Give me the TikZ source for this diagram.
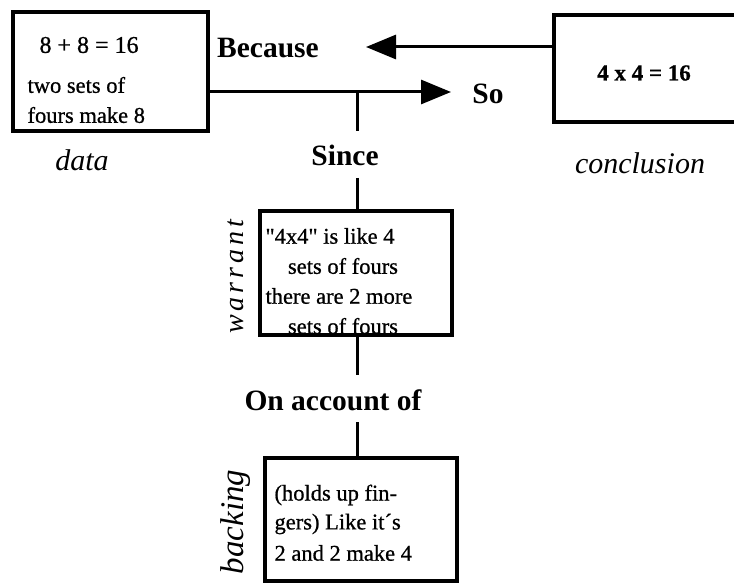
\documentclass[tikz,border=0pt]{standalone}
\usepackage{fontspec}
\setmainfont{Liberation Serif}
\newfontfamily\boxfont{Liberation Serif}[FakeBold=0.8]
\usetikzlibrary{arrows.meta}
\begin{document}
\begin{tikzpicture}[x=1pt,y=-1pt,
  frame/.style={draw,line width=3.2pt},
  link/.style={line width=3pt},
  tip/.style={-{Triangle[length=30pt,width=24pt]}},
  word/.style={font=\fontsize{29.5}{32}\selectfont\bfseries},
  role/.style={font=\fontsize{30}{32}\selectfont\itshape},
  boxtext/.style={font=\boxfont\fontsize{22.5}{30}\selectfont}]
\useasboundingbox (0,0) rectangle (734,585);
\clip (0,0) rectangle (734,585);

% the four boxes
\draw[frame] (13,12) rectangle (208,131);
\draw[frame] (554,15) rectangle (745,122);
\draw[frame] (260,211) rectangle (452,335);
\draw[frame] (265,458) rectangle (457,581);

% box contents
\node[boxtext,font=\boxfont\fontsize{24}{30}\selectfont,anchor=west] (d1) at (36,45) {8 + 8 = 16};
\node[boxtext,anchor=west] (d2) at (24,85) {two sets of};
\node[boxtext,anchor=west] (d3) at (24,115) {fours make 8};
\node[font=\boxfont\fontsize{23}{26}\selectfont\bfseries] (c1) at (644,73) {4 x 4 = 16};
\node[boxtext,anchor=west] (w1) at (262,236) {"4x4" is like 4};
\node[boxtext] (w2) at (343,266) {sets of fours};
\node[boxtext,anchor=west] (w3) at (262,296) {there are 2 more};
\node[boxtext] (w4) at (343,326) {sets of fours};
\node[boxtext,anchor=west] (b1) at (271,495) {(holds up fin-};
\node[boxtext,anchor=west] (b2) at (271,524) {gers) Like it´s};
\node[boxtext,anchor=west] (b3) at (271,553) {2 and 2 make 4};

% role captions
\node[role] (data) at (82,160) {data};
\node[role] (concl) at (640,163) {conclusion};
\node[role,rotate=90,font=\fontsize{28}{30}\selectfont\itshape\addfontfeature{LetterSpace=14}] (warr) at (236,277) {warrant};
\node[role,rotate=90,font=\fontsize{33}{36}\selectfont\itshape] (back) at (236,522) {backing};

% connecting words
\node[word] (because) at (268,48) {Because};
\node[word] (so) at (488,94) {So};
\node[word] (since) at (345,155) {Since};
\node[word] (account) at (333,400) {On account of};

% connectors
\coordinate (dr) at (208,92);
\coordinate (cl) at (554,47);
\coordinate (join) at (357,92);
\draw[link,tip] (cl) -- (366,47) coordinate (bt);
\draw[link,tip] (dr) -- (451,92) coordinate (st);
\draw[link] (join) -- (357,131);
\draw[link] (357,178) -- (357,211);
\draw[link] (357,335) -- (357,375);
\draw[link] (357,422) -- (357,458);
\end{tikzpicture}
\end{document}
